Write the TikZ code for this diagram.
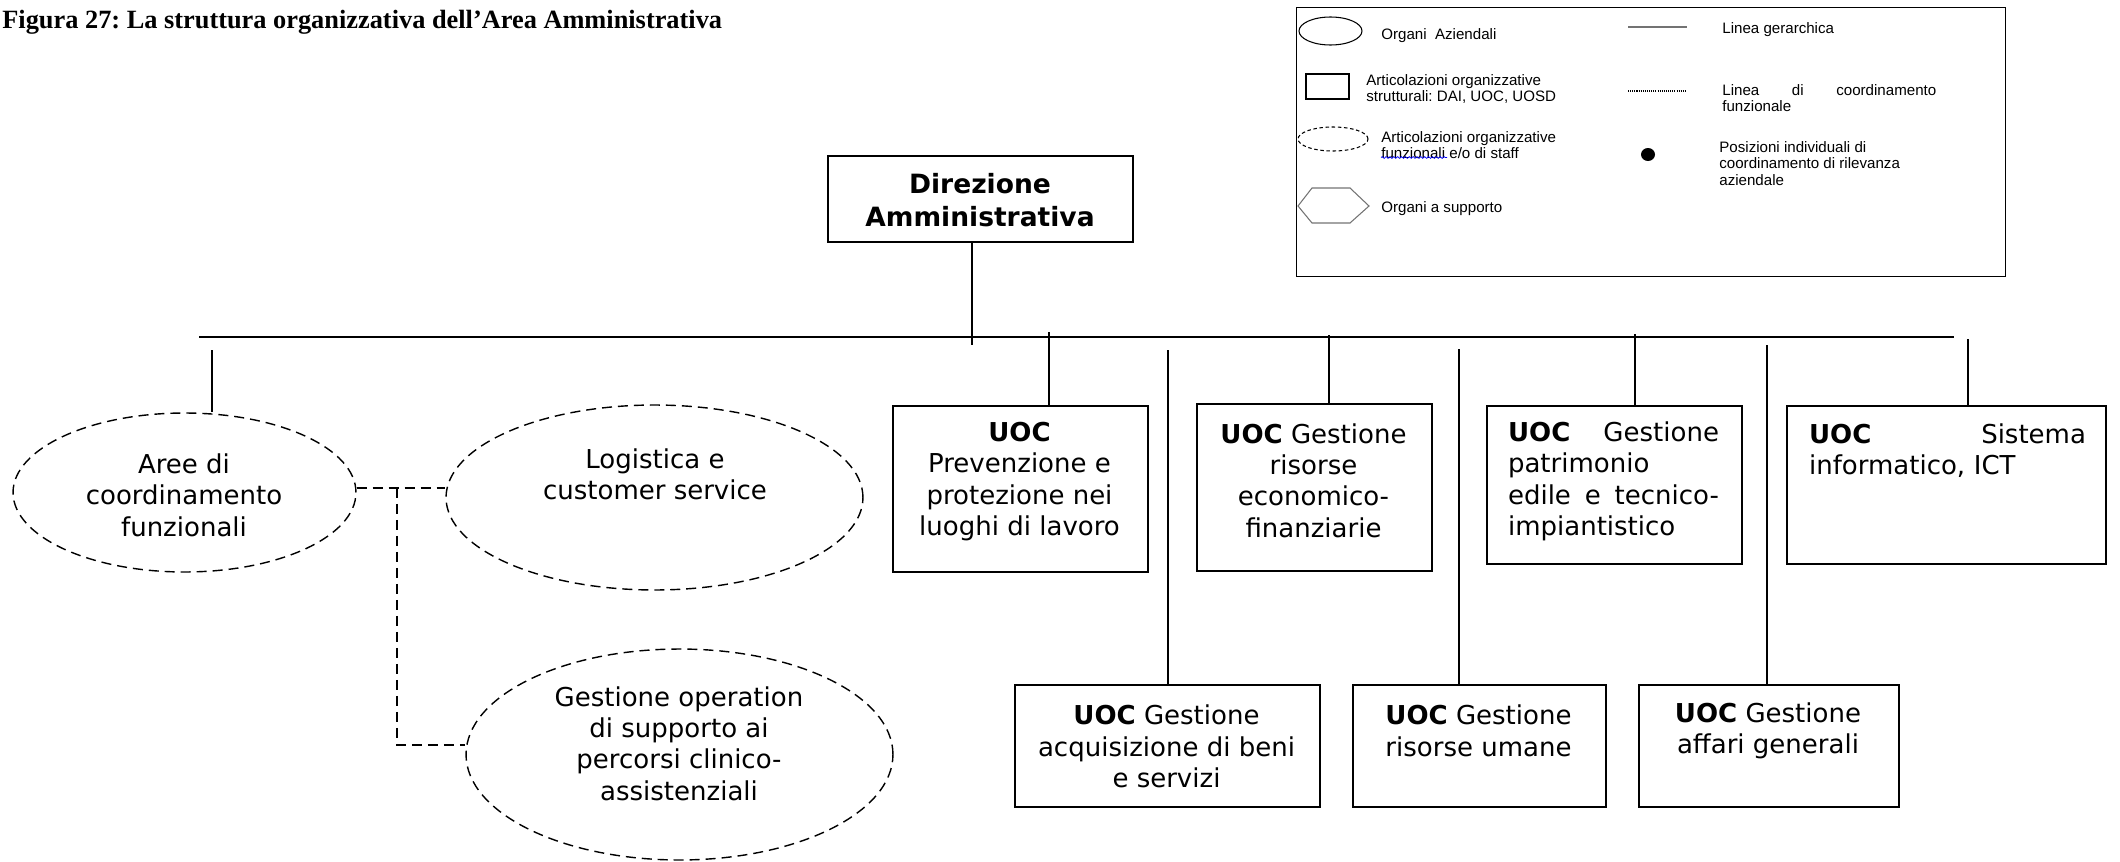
\documentclass[tikz,border=0pt]{standalone}
\usepackage{fontspec}
\usepackage{tikz}
\usetikzlibrary{shapes.geometric,decorations.pathmorphing}
\newfontfamily\verdfont{DejaVu Sans}
\newfontfamily\arialfont{Liberation Sans}
\newfontfamily\timesfont{Liberation Serif}
\definecolor{legendgray}{rgb}{0.45,0.45,0.45}
\frenchspacing

\begin{document}
\begin{tikzpicture}[x=0.02cm, y=-0.02cm,
    box/.style={draw, line width=1pt, inner sep=0pt, anchor=north west},
    blob/.style={draw, ellipse, line width=0.8pt, dash pattern=on 5.7pt off 3.4pt, inner sep=0pt},
    txt/.style={inner sep=0pt, align=center, font=\verdfont\fontsize{14.8}{17.9}\selectfont},
    legtxt/.style={inner sep=0pt, anchor=west, align=left, font=\arialfont\fontsize{8.6}{9.3}\selectfont},
    hline/.style={line width=0.85pt},
    fline/.style={line width=0.8pt, dash pattern=on 5.7pt off 3.4pt}]

    \useasboundingbox (0,0) rectangle (2120,862);

    \node[anchor=base west, inner sep=0pt, font=\timesfont\bfseries\fontsize{15}{17}\selectfont]
      (title) at (2,29) {Figura 27: La struttura organizzativa dell’Area Amministrativa};

    % legenda
    \node[box, line width=0.8pt, minimum width=14.18cm, minimum height=5.38cm] (legend) at (1296,7) {};

    \node[draw, ellipse, line width=0.6pt, minimum width=1.26cm, minimum height=0.56cm, inner sep=0pt]
      (symOrg) at (1330.5,31) {};
    \node[legtxt] (legOrg) at (1381,36) {Organi~ Aziendali};

    \node[draw, line width=0.8pt, minimum width=0.86cm, minimum height=0.5cm, inner sep=0pt]
      (symBox) at (1327.5,86.5) {};
    \node[legtxt] (legBox) at (1366,89) {Articolazioni organizzative\\strutturali: DAI, UOC, UOSD};

    \node[draw, ellipse, line width=0.6pt, dash pattern=on 2pt off 1.5pt, minimum width=1.4cm, minimum height=0.48cm, inner sep=0pt]
      (symStaff) at (1333,139) {};
    \node[legtxt] (legStaff) at (1381,145) {Articolazioni organizzative\\funzionali e/o di staff};
    \draw[blue, line width=0.4pt, decorate, decoration={snake, amplitude=0.5pt, segment length=2.2pt}]
      (1381,157.5) -- (1447,157.5);

    \draw[line width=0.6pt, legendgray]
      (1298,206) -- (1312,188) -- (1350,188) -- (1369,206) -- (1350,223) -- (1312,223) -- cycle;
    \node[legtxt] (legSup) at (1381,209) {Organi a supporto};

    \draw[line width=1.1pt, legendgray] (1628,27) -- (1687,27);
    \node[legtxt] (legGer) at (1722,30) {Linea gerarchica};

    \draw[line width=1.2pt, dash pattern=on 0.6pt off 0.6pt] (1628,91) -- (1687,91);
    \node[legtxt, text width=4.28cm] (legCoord) at (1722,98) {Linea\hfill di\hfill coordinamento\\funzionale};

    \fill (1648,154.5) ellipse (0.14cm and 0.13cm);
    \node[legtxt] (legPos) at (1719,163.5) {Posizioni individuali di\\coordinamento di rilevanza\\aziendale};

    % direzione
    \node[box, minimum width=6.10cm, minimum height=1.72cm] (dir) at (827,155) {};
    \node[txt, font=\verdfont\bfseries\fontsize{15.1}{18.8}\selectfont] (dirT) at (980,200.5) {Direzione\\Amministrativa};

    \coordinate (barW) at (199,337);
    \coordinate (barE) at (1954,337);
    \draw[hline] (barW) -- (barE);
    \coordinate (dirS) at (972,345);
    \draw[hline] (dirS |- dir.south) -- (dirS);

    % UOC, prima fila
    \node[box, minimum width=5.10cm, minimum height=3.32cm] (prev) at (892,405) {};
    \node[txt] (prevT) at (1019.5,481.5) {\textbf{UOC}\\Prevenzione e\\protezione nei\\luoghi di lavoro};

    \node[box, minimum width=4.70cm, minimum height=3.34cm] (econ) at (1196,403) {};
    \node[txt] (econT) at (1313.5,480.5) {\textbf{UOC} Gestione\\risorse\\economico-\\finanziarie};

    \node[box, minimum width=5.10cm, minimum height=3.16cm] (patr) at (1486,405) {};
    \node[txt, align=left, text width=4.22cm] (patrT) at (1613.5,481.5)
      {\textbf{UOC}\hfill Gestione\\patrimonio\\edile\hfill e\hfill tecnico-\\impiantistico};

    \node[box, minimum width=6.38cm, minimum height=3.16cm] (sist) at (1786,405) {};
    \node[txt, align=left, text width=5.54cm] (sistT) at (1947.5,450.5) {\textbf{UOC}\hfill Sistema\\informatico, ICT};

    % UOC, seconda fila
    \node[box, minimum width=6.10cm, minimum height=2.44cm] (acq) at (1014,684) {};
    \node[txt] (acqT) at (1166.5,746.5) {\textbf{UOC} Gestione\\acquisizione di beni\\e servizi};

    \node[box, minimum width=5.06cm, minimum height=2.44cm] (uman) at (1352,684) {};
    \node[txt] (umanT) at (1478.5,731) {\textbf{UOC} Gestione\\risorse umane};

    \node[box, minimum width=5.20cm, minimum height=2.44cm] (aff) at (1638,684) {};
    \node[txt] (affT) at (1768,731) {\textbf{UOC} Gestione\\affari generali};

    % aree funzionali
    \node[blob, minimum width=6.86cm, minimum height=3.18cm] (aree) at (184.5,492.5) {};
    \node[txt] (areeT) at (184,495) {Aree di\\coordinamento\\funzionali};

    \node[blob, minimum width=8.34cm, minimum height=3.70cm] (logi) at (654.5,497.5) {};
    \node[txt] (logiT) at (655,474.5) {Logistica e\\customer service};

    \node[blob, minimum width=8.54cm, minimum height=4.22cm] (gest) at (679.5,754.5) {};
    \node[txt] (gestT) at (679,743.5) {Gestione operation\\di supporto ai\\percorsi clinico-\\assistenziali};

    \coordinate (fork) at (397,488);
    \coordinate (elbow) at (397,745);
    \draw[fline] (aree.east |- fork) -- (logi.west |- fork);
    \draw[fline] (fork) -- (elbow) -- (elbow -| gest.west);

    % linee gerarchiche
    \foreach \n/\x/\y in {aree/212/350, prev/1049/332, econ/1329/335, patr/1635/334,
                          sist/1968/339, acq/1168/350, uman/1459/349, aff/1767/345}
    {
      \coordinate (\n top) at (\x,\y);
      \draw[hline] (\n top) -- (\n top |- \n.north);
    }
  \end{tikzpicture}
\end{document}
